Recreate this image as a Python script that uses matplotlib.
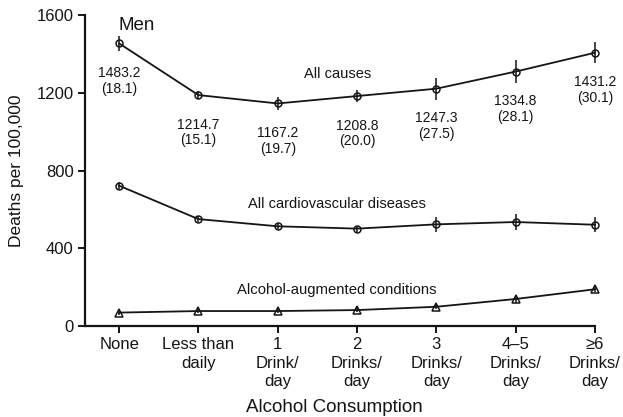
import matplotlib.pyplot as plt

plt.rcParams['font.family'] = ['Liberation Sans', 'DejaVu Sans']

categories = ["None", "Less than\ndaily", "1\nDrink/\nday", "2\nDrinks/\nday",
              "3\nDrinks/\nday", "4\u20135\nDrinks/\nday", "\u22656\nDrinks/\nday"]

all_causes = [1454, 1188, 1145, 1183, 1221, 1309, 1406]
all_causes_err = [38, 22, 35, 32, 56, 60, 54]
all_causes_labels = ["1483.2\n(18.1)", "1214.7\n(15.1)", "1167.2\n(19.7)", "1208.8\n(20.0)",
                     "1247.3\n(27.5)", "1334.8\n(28.1)", "1431.2\n(30.1)"]

cardio = [722, 550, 513, 501, 523, 535, 521]
cardio_err = [18, 14, 14, 16, 40, 42, 38]

alcohol_aug = [69, 77, 77, 82, 99, 139, 189]
alcohol_aug_err = [10, 10, 10, 12, 14, 20, 16]

yticks = [0, 400, 800, 1200, 1600]

fig = plt.figure(figsize=(6.23, 4.17), dpi=100)
ax = fig.add_axes([0.1364, 0.2182, 0.955 - 0.1364, 0.964 - 0.2182])

x = list(range(len(categories)))
line_kw = dict(color='#151515', lw=1.3, mfc='none', mew=1.1,
               elinewidth=1.1, capsize=0, clip_on=False)
ax.errorbar(x, all_causes, yerr=all_causes_err, marker='o', ms=5, **line_kw)
ax.errorbar(x, cardio, yerr=cardio_err, marker='o', ms=5, **line_kw)
ax.errorbar(x, alcohol_aug, yerr=alcohol_aug_err, marker='^', ms=5.2, **line_kw)

for xi, yi, lab in zip(x, all_causes, all_causes_labels):
    ax.annotate(lab, (xi, yi), xytext=(0, -27), textcoords='offset points',
                ha='center', va='center', fontsize=10, color='#151515',
                linespacing=1.15)

ax.text(-0.01, 1545, "Men", fontsize=13.5, color='#151515', ha='left', va='center')
ax.text(2.75, 1295, "All causes", fontsize=10.5, color='#151515', ha='center', va='center')
ax.text(2.75, 627, "All cardiovascular diseases", fontsize=10.5, color='#151515',
        ha='center', va='center')
ax.text(2.75, 185, "Alcohol-augmented conditions", fontsize=10.7, color='#151515',
        ha='center', va='center')

ax.set_xlim(-0.43, 6.0)
ax.set_ylim(0, 1600)
ax.set_xticks(x)
ax.set_xticklabels(categories, fontsize=12, linespacing=1.3)
ax.set_yticks(yticks)
ax.set_yticklabels([str(v) for v in yticks], fontsize=12)

for side in ['top', 'right']:
    ax.spines[side].set_visible(False)
for side in ['left', 'bottom']:
    ax.spines[side].set_linewidth(1.6)
    ax.spines[side].set_color('#151515')
ax.tick_params(axis='both', direction='out', length=5, width=1.4, colors='#151515', pad=3)

ax.set_ylabel("Deaths per 100,000", fontsize=12.5, color='#151515')
ax.set_xlabel("Alcohol Consumption", fontsize=13.5, color='#151515')
ax.yaxis.set_label_coords(-0.12, 0.5)
ax.xaxis.set_label_coords(0.49, -0.235)

fig.savefig("out.png", dpi=100)
